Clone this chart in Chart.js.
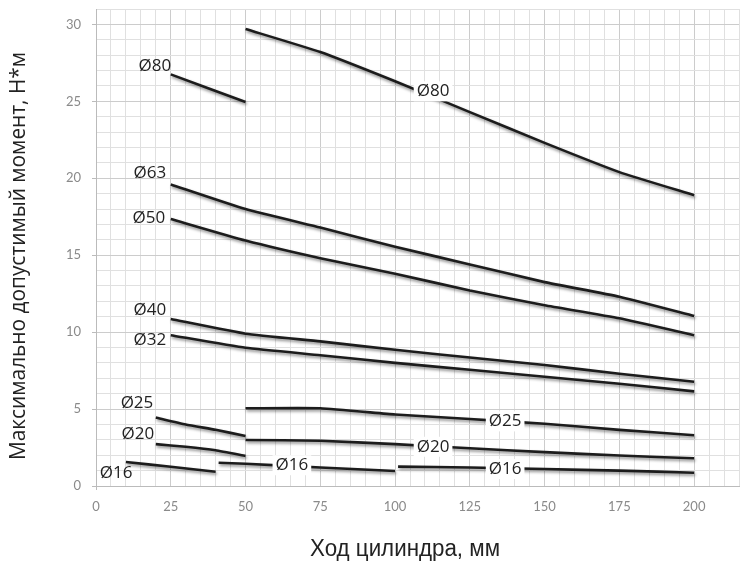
<!DOCTYPE html>
<html><head><meta charset="utf-8">
<script src="https://cdn.jsdelivr.net/npm/chart.js@4"></script>
<style>html,body{margin:0;padding:0;background:#fff}#wrap{width:744px;height:563px;position:relative}</style>
</head><body><div id="wrap"><canvas id="c" width="744" height="563"></canvas></div>
<script>
// ---- data (stroke mm vs max allowed moment N*m) ----
const xTicksLabelled = [0, 25, 50, 75, 100, 125, 150, 175, 200];
const yTicksLabelled = [0, 5, 10, 15, 20, 25, 30];
const xTitle = 'Ход цилиндра, мм';
const yTitle = 'Максимально допустимый момент, Н*м';

const x80a = [25, 50];                     const y80a = [26.75, 24.95];
const x80b = [50, 75, 100, 125, 150, 175, 200]; const y80b = [29.7, 28.2, 26.3, 24.3, 22.3, 20.4, 18.9];
const x63  = [25, 50, 75, 100, 125, 150, 175, 200]; const y63 = [19.6, 18.0, 16.8, 15.55, 14.4, 13.25, 12.3, 11.05];
const x50  = [25, 50, 75, 100, 125, 150, 175, 200]; const y50 = [17.35, 15.95, 14.8, 13.8, 12.7, 11.75, 10.9, 9.8];
const x40  = [25, 50, 75, 100, 125, 150, 175, 200]; const y40 = [10.85, 9.9, 9.4, 8.85, 8.35, 7.86, 7.3, 6.77];
const x32  = [25, 50, 75, 100, 125, 150, 175, 200]; const y32 = [9.8, 8.98, 8.5, 8.0, 7.55, 7.1, 6.65, 6.15];
const x25a = [20, 30, 40, 50];             const y25a = [4.45, 4.0, 3.65, 3.25];
const x25b = [50, 75, 100, 125, 150, 175, 200]; const y25b = [5.05, 5.05, 4.65, 4.35, 4.05, 3.65, 3.3];
const x20a = [20, 30, 40, 50];             const y20a = [2.72, 2.55, 2.32, 1.95];
const x20b = [50, 75, 100, 125, 150, 175, 200]; const y20b = [2.99, 2.94, 2.72, 2.45, 2.2, 1.98, 1.8];
const x16a = [10, 25, 40];                 const y16a = [1.56, 1.25, 0.93];
const x16b = [41, 50, 75, 100];            const y16b = [1.51, 1.45, 1.2, 0.97];
const x16c = [101, 125, 150, 175, 200];    const y16c = [1.26, 1.2, 1.1, 1.0, 0.86];

const seriesList = [
  [x80a, y80a], [x80b, y80b], [x63, y63], [x50, y50], [x40, y40], [x32, y32],
  [x25a, y25a], [x25b, y25b], [x20a, y20a], [x20b, y20b], [x16a, y16a], [x16b, y16b], [x16c, y16c]
];

// labels: text, x, y (data units), masked background
const labelText = ['Ø80','Ø80','Ø63','Ø50','Ø40','Ø32','Ø25','Ø20','Ø16','Ø16','Ø20','Ø25','Ø16'];
const labelX    = [19.7, 112.7, 18, 17.7, 18, 18, 13.7, 14, 6.7, 65.5, 112.7, 136.8, 136.8];
const labelY    = [27.3, 25.65, 20.3, 17.4, 11.4, 9.5, 5.4, 3.4, 0.85, 1.35, 2.55, 4.2, 1.1];
const labelBg   = [false, true, false, false, false, false, false, false, false, true, true, true, true];

const datasets = seriesList.map(([xs, ys]) => ({
  data: xs.map((x, i) => ({x: x, y: ys[i]})),
  borderColor: '#1c1c1c', borderWidth: 2.6, pointRadius: 0, tension: 0.15,
  borderCapStyle: 'butt', fill: false
}));

const shadowPlugin = {
  id: 'shadow',
  beforeDatasetDraw(chart) { const c = chart.ctx; c.save(); c.shadowColor = 'rgba(0,0,0,0.45)'; c.shadowBlur = 3; c.shadowOffsetX = 1; c.shadowOffsetY = 2; },
  afterDatasetDraw(chart) { chart.ctx.restore(); }
};
const labelPlugin = {
  id: 'labels',
  afterDatasetsDraw(chart) {
    const c = chart.ctx, sx = chart.scales.x, sy = chart.scales.y;
    c.save();
    c.font = '17px "Open Sans", "DejaVu Sans", sans-serif';
    c.textAlign = 'center'; c.textBaseline = 'middle';
    labelText.forEach((t, i) => {
      const px = sx.getPixelForValue(labelX[i]), py = sy.getPixelForValue(labelY[i]);
      const w = c.measureText(t).width;
      if (labelBg[i]) { c.fillStyle = '#fff'; c.fillRect(px - w/2 - 3, py - 10, w + 6, 20); }
      c.fillStyle = '#222';
      c.fillText(t, px, py);
    });
    c.restore();
  }
};
// axis titles, fitted to the reference's text lengths
function fittedText(c, text, cx, cy, rot, fontPx, family, width) {
  c.save();
  c.font = fontPx + 'px ' + family;
  const w = c.measureText(text).width;
  c.translate(cx, cy); c.rotate(rot); c.scale(width / w, 1);
  c.textAlign = 'center'; c.textBaseline = 'middle'; c.fillStyle = '#222';
  c.fillText(text, 0, 0);
  c.restore();
}
const titlePlugin = {
  id: 'titles',
  afterDraw(chart) {
    const c = chart.ctx;
    fittedText(c, xTitle, 405, 550, 0, 23, '"Liberation Sans", sans-serif', 190);
    fittedText(c, yTitle, 19, 256, -Math.PI / 2, 21, '"Open Sans", sans-serif', 408);
  }
};

const tickFont = {family: 'Lato, "Open Sans", sans-serif', size: 13};
new Chart(document.getElementById('c'), {
  type: 'line',
  data: {datasets},
  plugins: [shadowPlugin, labelPlugin, titlePlugin],
  options: {
    responsive: false, animation: false,
    layout: {padding: {left: 0, top: 9, right: 5, bottom: 0}},
    plugins: {legend: {display: false}, tooltip: {enabled: false}},
    scales: {
      x: {
        type: 'linear', min: 0, max: 215,
        afterFit(s) { s.height = 77; s.paddingLeft = 0; s.paddingRight = 0; },
        ticks: {stepSize: 5, autoSkip: false, maxRotation: 0, padding: 9, color: '#8a8a8a', font: tickFont,
          callback: v => xTicksLabelled.includes(v) ? String(v) : ''},
        grid: {color: ctx => (ctx.tick && ctx.tick.value % 25 === 0) ? '#cccccc' : '#e0e0e0', lineWidth: 1,
          tickLength: 4, tickColor: ctx => (ctx.tick && ctx.tick.value === 0) ? '#bbbbbb' : 'rgba(0,0,0,0)'},
        border: {color: '#bbbbbb'}
      },
      y: {
        type: 'linear', min: 0, max: 31,
        afterFit(s) { s.width = 96; s.paddingTop = 0; s.paddingBottom = 0; },
        ticks: {stepSize: 1, autoSkip: false, padding: 11, color: '#8a8a8a', font: tickFont,
          callback: v => yTicksLabelled.includes(v) ? String(v) : ''},
        grid: {color: ctx => (ctx.tick && ctx.tick.value % 5 === 0) ? '#cccccc' : '#e0e0e0', lineWidth: 1,
          tickLength: 4, tickColor: ctx => (ctx.tick && yTicksLabelled.includes(ctx.tick.value)) ? '#bbbbbb' : 'rgba(0,0,0,0)'},
        border: {color: '#bbbbbb'}
      }
    }
  }
});
</script></body></html>
